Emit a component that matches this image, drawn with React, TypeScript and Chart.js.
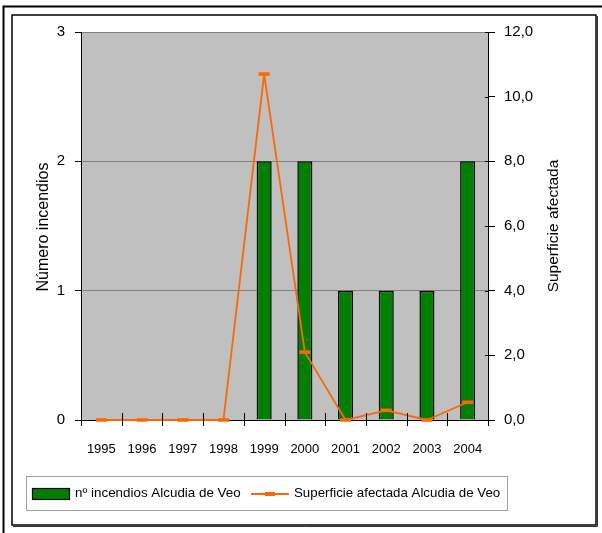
import React, { useEffect, useRef } from 'react';
import { Chart, registerables } from 'chart.js';

Chart.register(...registerables);

const years = ['1995', '1996', '1997', '1998', '1999', '2000', '2001', '2002', '2003', '2004'];
const incendios = [0, 0, 0, 0, 2, 2, 1, 1, 1, 2];
const superficie = [0, 0, 0, 0, 10.7, 2.1, 0, 0.3, 0, 0.55];
const seriesLabels = ['nº incendios Alcudia de Veo', 'Superficie afectada Alcudia de Veo'];
const axisTitles = ['Número incendios', 'Superficie afectada'];
const leftMax = 3;
const leftStep = 1;
const rightMax = 12;
const rightStep = 2;

const FONT = '"Liberation Sans", Arial, sans-serif';
const GREEN = '#008000';
const ORANGE = '#ff6600';

export default function App() {
  const ref = useRef<HTMLCanvasElement>(null);

  useEffect(() => {
    document.body.style.margin = '0';
    const canvas = ref.current!;

    const framePlugin = {
      id: 'frame',
      beforeDraw(chart: any) {
        const { ctx, chartArea: a } = chart;
        ctx.save();
        ctx.fillStyle = '#fff';
        ctx.fillRect(0, 0, chart.width, chart.height);
        ctx.fillStyle = '#c0c0c0';
        ctx.fillRect(a.left, a.top, a.right - a.left, a.bottom - a.top);
        ctx.strokeStyle = '#000';
        ctx.lineWidth = 2;
        ctx.beginPath();
        ctx.moveTo(3.5, chart.height);
        ctx.lineTo(3.5, 6.5);
        ctx.lineTo(chart.width, 6.5);
        ctx.stroke();
        ctx.lineWidth = 1.5;
        ctx.strokeRect(12, 15, 584, 510);
        ctx.lineWidth = 1;
        ctx.strokeStyle = '#333';
        ctx.beginPath();
        ctx.moveTo(597.5, 16);
        ctx.lineTo(597.5, 526.5);
        ctx.lineTo(13, 526.5);
        ctx.stroke();
        ctx.restore();
      },
      afterDraw(chart: any) {
        const { ctx, chartArea: a } = chart;
        const n = chart.data.labels.length;
        const w = (a.right - a.left) / n;
        ctx.save();
        ctx.strokeStyle = '#000';
        ctx.lineWidth = 1;
        ctx.beginPath();
        for (let i = 0; i <= n; i++) {
          const x = Math.round(a.left + i * w) + 0.5;
          ctx.moveTo(x, a.bottom - 7);
          ctx.lineTo(x, a.bottom + 6);
        }
        const y1 = chart.scales.y1;
        y1.ticks.forEach((t: any) => {
          const y = Math.round(y1.getPixelForValue(t.value)) + 0.5;
          ctx.moveTo(a.right - 3, y);
          ctx.lineTo(a.right, y);
        });
        ctx.stroke();

        // axis titles
        const cy = (a.top + a.bottom) / 2;
        ctx.fillStyle = '#000';
        ctx.textAlign = 'center';
        ctx.textBaseline = 'alphabetic';
        ctx.font = `16px ${FONT}`;
        ctx.save();
        ctx.translate(48, cy + 1);
        ctx.rotate(-Math.PI / 2);
        ctx.fillText(axisTitles[0], 0, 0);
        ctx.restore();
        ctx.font = `15.5px ${FONT}`;
        ctx.save();
        ctx.translate(557.5, cy);
        ctx.rotate(-Math.PI / 2);
        ctx.fillText(axisTitles[1], 0, 0);
        ctx.restore();

        // legend
        const ds = chart.data.datasets;
        ctx.strokeStyle = '#a0a0a0';
        ctx.lineWidth = 1;
        ctx.strokeRect(26.5, 476.5, 481, 34);
        ctx.fillStyle = ds[0].backgroundColor;
        ctx.fillRect(32.5, 488.5, 37, 11);
        ctx.strokeStyle = '#000';
        ctx.lineWidth = 1.2;
        ctx.strokeRect(32.5, 488.5, 37, 11);
        ctx.fillStyle = '#000';
        ctx.textAlign = 'left';
        ctx.font = `13.4px ${FONT}`;
        ctx.fillText(ds[0].label, 75, 497);
        ctx.strokeStyle = ds[1].borderColor;
        ctx.lineWidth = 2;
        ctx.beginPath();
        ctx.moveTo(251, 494);
        ctx.lineTo(289, 494);
        ctx.stroke();
        ctx.fillStyle = ds[1].borderColor;
        ctx.fillRect(265, 492, 10, 4);
        ctx.fillStyle = '#000';
        ctx.font = `13.3px ${FONT}`;
        ctx.fillText(ds[1].label, 294, 497);
        ctx.restore();
      },
    };

    const chart = new Chart(canvas, {
      type: 'bar',
      data: {
        labels: years,
        datasets: [
          {
            type: 'bar',
            label: seriesLabels[0],
            data: incendios,
            yAxisID: 'y',
            backgroundColor: GREEN,
            borderColor: '#000',
            borderWidth: 1.5,
            barPercentage: 0.37,
            categoryPercentage: 1,
            order: 2,
          } as any,
          {
            type: 'line',
            label: seriesLabels[1],
            data: superficie,
            yAxisID: 'y1',
            borderColor: ORANGE,
            backgroundColor: ORANGE,
            borderWidth: 1.8,
            borderJoinStyle: 'bevel',
            pointStyle: 'line',
            pointRadius: 5.5,
            pointHoverRadius: 5.5,
            pointBorderWidth: 3.5,
            tension: 0,
            clip: false,
            order: 1,
          } as any,
        ],
      },
      options: {
        responsive: false,
        animation: false,
        devicePixelRatio: 1,
        layout: { padding: { left: 12, right: 6, top: 32, bottom: 8 } },
        plugins: { legend: { display: false }, tooltip: { enabled: false } },
        events: [],
        scales: {
          x: {
            grid: { display: false, drawTicks: false },
            border: { color: '#000', width: 1 },
            ticks: { font: { family: FONT, size: 13 }, color: '#000', padding: 22, maxRotation: 0, autoSkip: false },
            afterFit: (s: any) => { s.height = 105; },
          },
          y: {
            position: 'left',
            min: 0,
            max: leftMax,
            ticks: { stepSize: leftStep, font: { family: FONT, size: 15 }, color: '#000', padding: 10 },
            grid: {
              color: (c: any) => (c.tick && c.tick.value === 0 ? 'rgba(0,0,0,0)' : '#808080'),
              tickColor: '#000',
              tickLength: 6,
              lineWidth: 1,
            },
            border: { color: '#000', width: 1 },
            afterFit: (s: any) => { s.width = 69; },
          },
          y1: {
            position: 'right',
            min: 0,
            max: rightMax,
            ticks: {
              stepSize: rightStep,
              font: { family: FONT, size: 15 },
              color: '#000',
              padding: 9,
              callback: (v: any) => Number(v).toFixed(1).replace('.', ','),
            },
            grid: { drawOnChartArea: false, tickColor: '#000', tickLength: 7 },
            border: { color: '#000', width: 1 },
            afterFit: (s: any) => { s.width = 108; },
          },
        },
      } as any,
      plugins: [framePlugin],
    });

    return () => chart.destroy();
  }, []);

  return <canvas ref={ref} width={602} height={533} style={{ display: 'block' }} />;
}
